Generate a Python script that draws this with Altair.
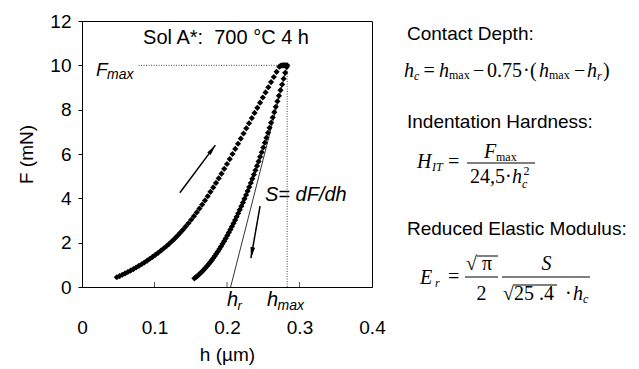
import altair as alt
import pandas as pd

# ---------------- data ----------------
load_h = [0.048, 0.0518, 0.0556, 0.0594, 0.0632, 0.067, 0.0708, 0.0746, 0.0784, 0.0822,
          0.086, 0.0898, 0.0936, 0.0974, 0.1012, 0.105, 0.1088, 0.1126, 0.1164, 0.1202,
          0.124, 0.1278, 0.1316, 0.1354, 0.1392, 0.143, 0.1468, 0.1506, 0.1544, 0.1582,
          0.162, 0.1658, 0.1696, 0.1734, 0.1772, 0.181, 0.1848, 0.1886, 0.1924, 0.1962,
          0.2, 0.2038, 0.2076, 0.2114, 0.2152, 0.219, 0.2228, 0.2266, 0.2304, 0.2342,
          0.238, 0.2418, 0.2456, 0.2494, 0.2532, 0.257, 0.2608, 0.2646, 0.2684, 0.2722]
load_F = [0.44, 0.494, 0.551, 0.612, 0.675, 0.74, 0.808, 0.879, 0.952, 1.028,
          1.107, 1.189, 1.273, 1.36, 1.45, 1.542, 1.638, 1.736, 1.839, 1.947,
          2.062, 2.182, 2.309, 2.442, 2.58, 2.725, 2.876, 3.032, 3.194, 3.363,
          3.537, 3.718, 3.904, 4.095, 4.292, 4.491, 4.694, 4.902, 5.113, 5.329,
          5.548, 5.771, 5.999, 6.23, 6.462, 6.694, 6.926, 7.157, 7.389, 7.621,
          7.853, 8.084, 8.316, 8.548, 8.78, 9.012, 9.243, 9.475, 9.707, 9.939]
hold_h = [0.2742, 0.276, 0.278, 0.2798, 0.2815, 0.283]
hold_F = [9.98, 10.0, 10.0, 10.0, 10.0, 10.0]
unload_h = [0.155, 0.1572, 0.1593, 0.1615, 0.1636, 0.1658, 0.168, 0.1701, 0.1723, 0.1744,
            0.1766, 0.1788, 0.1809, 0.1831, 0.1852, 0.1874, 0.1896, 0.1917, 0.1939, 0.196,
            0.1982, 0.2004, 0.2025, 0.2047, 0.2068, 0.209, 0.2112, 0.2133, 0.2155, 0.2176,
            0.2198, 0.222, 0.2241, 0.2263, 0.2284, 0.2306, 0.2328, 0.2349, 0.2371, 0.2392,
            0.2414, 0.2436, 0.2457, 0.2479, 0.25, 0.2522, 0.2544, 0.2565, 0.2587, 0.2608,
            0.263, 0.2652, 0.2673, 0.2695, 0.2716, 0.2738, 0.276, 0.2781, 0.2803, 0.2824]
unload_F = [0.39, 0.445, 0.504, 0.567, 0.633, 0.703, 0.777, 0.854, 0.935, 1.02,
            1.108, 1.2, 1.296, 1.395, 1.498, 1.605, 1.715, 1.829, 1.947, 2.068,
            2.193, 2.322, 2.454, 2.59, 2.73, 2.873, 3.02, 3.171, 3.325, 3.483,
            3.645, 3.81, 3.979, 4.152, 4.328, 4.508, 4.691, 4.879, 5.07, 5.265,
            5.463, 5.665, 5.871, 6.08, 6.293, 6.51, 6.73, 6.954, 7.182, 7.413,
            7.648, 7.887, 8.129, 8.375, 8.624, 8.878, 9.135, 9.396, 9.66, 9.928]

F_MAX = 10.0
H_MAX = 0.283
H_R = 0.205
FMAX_LINE_START = 0.078

up_arrow_h = [0.135, 0.184]
up_arrow_F = [4.25, 6.4]
up_head = (0.1795, 6.2)
down_arrow_h = [0.2456, 0.233]
down_arrow_F = [3.65, 1.3]
down_head = (0.2343, 1.55)

x_ticks = [0, 0.1, 0.2, 0.3, 0.4]
inner_ticks = [0.1, 0.2, 0.3]
y_ticks = [0, 2, 4, 6, 8, 10, 12]

# ---------------- layout ----------------
W, H = 290, 266
SANS = "Liberation Sans"
SERIF = "Liberation Serif"

xs = alt.Scale(domain=[0, 0.4], nice=False, zero=False)
ys = alt.Scale(domain=[0, 12], nice=False)

pts = pd.DataFrame({
    "h": load_h + hold_h + unload_h,
    "F": load_F + hold_F + unload_F,
})

one = pd.DataFrame({"a": [0]})


def txt(s, x, y, size, font=SANS, italic=False, align="left"):
    return alt.Chart(one).mark_text(
        text=s, font=font, fontSize=size,
        fontStyle="italic" if italic else "normal",
        align=align, baseline="alphabetic", color="black",
    ).encode(x=alt.value(x), y=alt.value(y))


def hline(x1, x2, y, width=1):
    return alt.Chart(one).mark_rule(color="black", strokeWidth=width).encode(
        x=alt.value(x1), x2=alt.value(x2), y=alt.value(y))


x_axis = alt.Axis(values=x_ticks, format="~g", ticks=False, labelPadding=31,
                  labelFontSize=19, labelColor="black", labelFlush=False,
                  title="h (µm)", titleFontSize=19, titleFontWeight="normal",
                  titleColor="black", titleY=73, titleBaseline="alphabetic",
                  grid=False, domainColor="black")
y_axis = alt.Axis(values=y_ticks, tickSize=4, labelPadding=7, labelFontSize=19,
                  labelColor="black", labelFlush=False, tickColor="black",
                  title="F (mN)", titleFontSize=19, titleFontWeight="normal",
                  titleColor="black", titleX=-50, titleY=133, titleAngle=270,
                  titleAlign="center", titleBaseline="alphabetic",
                  grid=False, domainColor="black")

# dotted guide lines
guides = pd.DataFrame({
    "h": [FMAX_LINE_START, H_MAX], "h2": [H_MAX, H_MAX],
    "F": [F_MAX, 0.0], "F2": [F_MAX, F_MAX],
})
dotted = alt.Chart(guides).mark_rule(color="#444444", strokeWidth=1,
                                     strokeDash=[1, 1.5]).encode(
    x=alt.X("h:Q", scale=xs), x2="h2", y=alt.Y("F:Q", scale=ys), y2="F2")

tangent = alt.Chart(pd.DataFrame({"h": [H_R], "h2": [H_MAX], "F": [0.0], "F2": [F_MAX]})
                    ).mark_rule(color="black", strokeWidth=0.8).encode(
    x=alt.X("h:Q", scale=xs), x2="h2", y=alt.Y("F:Q", scale=ys), y2="F2")

ticks_in = alt.Chart(pd.DataFrame({"h": inner_ticks})).mark_rule(
    color="#555555", strokeWidth=1).encode(
    x=alt.X("h:Q", scale=xs), y=alt.value(H - 5), y2=alt.value(H))

arrows = alt.Chart(pd.DataFrame({
    "h": [up_arrow_h[0], down_arrow_h[0]], "h2": [up_arrow_h[1], down_arrow_h[1]],
    "F": [up_arrow_F[0], down_arrow_F[0]], "F2": [up_arrow_F[1], down_arrow_F[1]],
})).mark_rule(color="black", strokeWidth=1.5).encode(
    x=alt.X("h:Q", scale=xs), x2="h2", y=alt.Y("F:Q", scale=ys), y2="F2")

head_shape = "M0,-1L0.42,1L-0.42,1Z"
up_arrowhead = alt.Chart(pd.DataFrame({"h": [up_head[0]], "F": [up_head[1]]})).mark_point(
    shape=head_shape, filled=True, color="black", opacity=1, size=110, angle=36.7,
    strokeWidth=0).encode(x=alt.X("h:Q", scale=xs), y=alt.Y("F:Q", scale=ys))
down_arrowhead = alt.Chart(pd.DataFrame({"h": [down_head[0]], "F": [down_head[1]]})).mark_point(
    shape=head_shape, filled=True, color="black", opacity=1, size=120, angle=190,
    strokeWidth=0).encode(x=alt.X("h:Q", scale=xs), y=alt.Y("F:Q", scale=ys))

points = alt.Chart(pts).mark_point(shape="diamond", filled=True, color="black",
                                   opacity=1, size=38, strokeWidth=0).encode(
    x=alt.X("h:Q", scale=xs, axis=x_axis),
    y=alt.Y("F:Q", scale=ys, axis=y_axis),
)

# annotations inside/around the plot (pixel positions relative to plot area)
notes = [
    txt("Sol A*:\u00a0 700 °C 4 h", 144, 23, 20, align="center"),
    txt("F", 14, 55, 19, italic=True),
    txt("max", 25, 58, 14, italic=True),
    txt("S= dF/dh", 183, 180, 20, italic=True),
    txt("h", 145, 285, 20, italic=True),
    txt("r", 155.5, 289, 13, italic=True),
    txt("h", 185, 285, 20, italic=True),
    txt("max", 195.5, 289, 14, italic=True),
]

# right-hand panel of formulas
fs, ss = 20, 12
right = [
    txt("Contact Depth:", 325, 19, 19),
    txt("h", 322, 56, fs, SERIF, True),
    txt("c", 332, 59, ss, SERIF, True),
    txt("=", 341.5, 56, fs, SERIF),
    txt("h", 357, 56, fs, SERIF, True),
    txt("max", 367, 58, ss, SERIF),
    txt("−", 391, 56, fs, SERIF),
    txt("0.75", 405, 56, fs, SERIF),
    txt("·", 441, 56, fs, SERIF),
    txt("(", 448, 56, fs, SERIF),
    txt("h", 457, 56, fs, SERIF, True),
    txt("max", 467, 58, ss, SERIF),
    txt("−", 492, 56, fs, SERIF),
    txt("h", 505, 56, fs, SERIF, True),
    txt("r", 515, 59, ss, SERIF, True),
    txt(")", 521, 56, fs, SERIF),

    txt("Indentation Hardness:", 325, 107, 19),
    txt("H", 335, 147, fs, SERIF, True),
    txt("IT", 350, 150, 12, SERIF, True),
    txt("=", 366, 147, fs, SERIF),
    hline(385, 453, 142),
    txt("F", 402, 137, fs, SERIF, True),
    txt("max", 414, 140, ss, SERIF),
    txt("24,5", 388, 162, fs, SERIF),
    txt("·", 423, 162, fs, SERIF),
    txt("h", 430, 162, fs, SERIF, True),
    txt("c", 440, 167, ss, SERIF, True),
    txt("2", 441.5, 154, ss, SERIF),

    txt("Reduced Elastic Modulus:", 325, 214, 19),
    txt("E", 338, 263, fs, SERIF, True),
    txt("r", 353, 266, ss, SERIF, True),
    txt("=", 366, 262, fs, SERIF),
    hline(383, 416, 256),
    txt("√", 384, 249, fs, SERIF),
    txt("π", 400, 249, fs, SERIF),
    hline(395, 416, 235),
    txt("2", 399.5, 279, fs, SERIF, align="center"),
    hline(420, 508, 256),
    txt("S", 464.5, 249, fs, SERIF, True, align="center"),
    txt("√", 421, 279, fs, SERIF),
    hline(432, 475, 264),
    txt("25 .4", 432, 279, fs, SERIF),
    txt("·", 483, 279, fs, SERIF),
    txt("h", 491, 279, fs, SERIF, True),
    txt("c", 501, 282, ss, SERIF, True),
]

chart = alt.layer(
    dotted, tangent, ticks_in, arrows, up_arrowhead, down_arrowhead, points,
    *notes, *right,
).properties(
    width=W, height=H,
    autosize=alt.AutoSizeParams(type="none"),
    padding={"left": 82, "top": 21, "right": 267, "bottom": 82},
    background="white",
).configure_view(
    stroke="black", strokeWidth=1,
).configure_axis(
    labelFont=SANS, titleFont=SANS,
)

chart.save("out.html", embed_options={"renderer": "svg", "actions": False})
